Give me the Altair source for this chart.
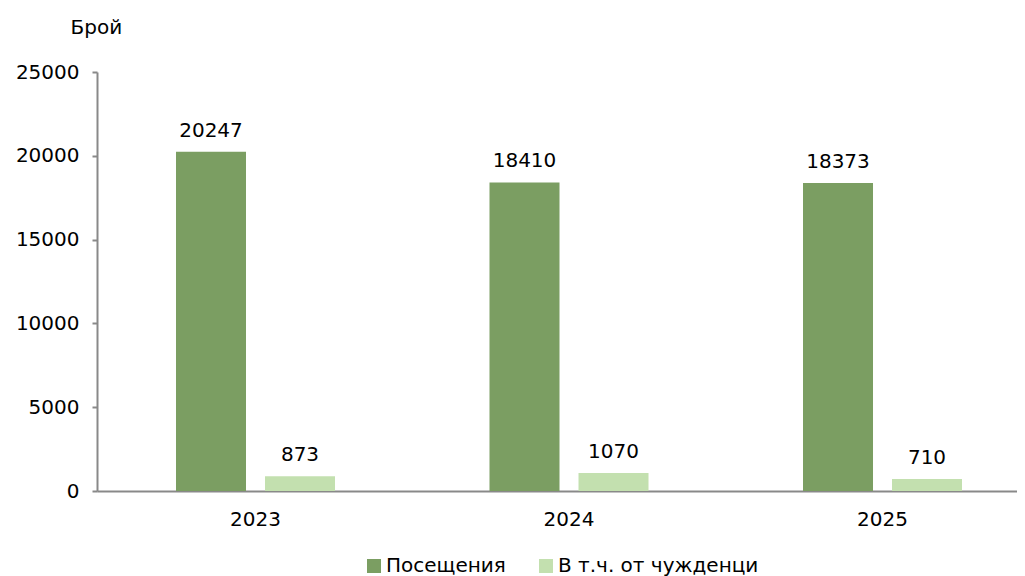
import altair as alt
import pandas as pd

years = ["2023", "2024", "2025"]
visits = [20247, 18410, 18373]
foreigners = [873, 1070, 710]
series_names = ["Посещения", "В т.ч. от чужденци"]
series_colors = ["#7B9E62", "#C3E0AF"]
y_ticks = [0, 5000, 10000, 15000, 20000, 25000]

rows = []
for i, yr in enumerate(years):
    rows.append({"year": yr, "series": series_names[0], "value": visits[i]})
    rows.append({"year": yr, "series": series_names[1], "value": foreigners[i]})
df = pd.DataFrame(rows)

FONT = "DejaVu Sans"
GRAY = "#898989"

x_enc = alt.X(
    "year:N", sort=years, title=None,
    scale=alt.Scale(paddingInner=0.4928, paddingOuter=0.2137, align=0.5896),
    axis=alt.Axis(labelAngle=0, labelFontSize=20, labelFont=FONT, labelColor="#000",
                  ticks=False, tickSize=0, labelPadding=18, domainColor=GRAY,
                  domainWidth=2, grid=False),
)
xo_enc = alt.XOffset("series:N", sort=series_names,
                     scale=alt.Scale(paddingInner=0.2135, paddingOuter=0))
y_enc = alt.Y(
    "value:Q",
    scale=alt.Scale(domain=[0, 25000], nice=False),
    axis=alt.Axis(values=y_ticks, format="d", labelFontSize=20, labelFont=FONT,
                  labelColor="#000", tickSize=5, tickColor=GRAY, tickWidth=2,
                  labelPadding=13, domainColor=GRAY, domainWidth=2, grid=False,
                  title="Брой", titleAngle=0, titleX=-27, titleY=-39,
                  titleAlign="left", titleBaseline="alphabetic",
                  titleFontWeight="normal", titleFontSize=20, titleFont=FONT,
                  titleColor="#000"),
)

bars = alt.Chart(df).mark_bar().encode(
    x=x_enc, xOffset=xo_enc, y=y_enc,
    color=alt.Color(
        "series:N", sort=series_names,
        scale=alt.Scale(domain=series_names, range=series_colors),
        legend=alt.Legend(orient="none", legendX=267, legendY=484,
                          direction="horizontal", title=None, symbolType="square",
                          symbolSize=196, symbolStrokeWidth=0, labelFontSize=20,
                          labelFont=FONT, labelColor="#000", columnPadding=30,
                          labelOffset=2, padding=0, labelLimit=500),
    ),
)

labels = alt.Chart(df).mark_text(
    dy=-15, baseline="alphabetic", fontSize=20, font=FONT, color="#000"
).encode(x=x_enc, xOffset=xo_enc, y=y_enc, text=alt.Text("value:Q", format="d"))

chart = alt.layer(bars, labels).properties(
    width=920, height=419,
    background="white",
    autosize=alt.AutoSizeParams(type="none"),
    padding={"left": 89, "top": 64, "right": 0, "bottom": 100},
).configure_view(stroke=None)

chart.save("out.html", embed_options={"renderer": "svg", "actions": False})
